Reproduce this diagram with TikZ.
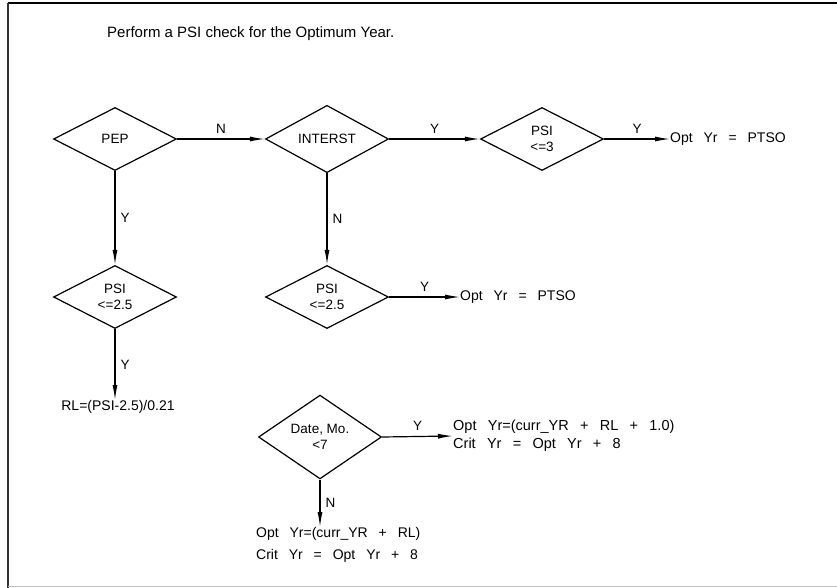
\documentclass[tikz,border=0pt]{standalone}
\usepackage{fontspec}
\setmainfont{Liberation Sans}
\newfontfamily\widefont[WordSpace=2.3]{Liberation Sans}
\newfontfamily\widerfont[WordSpace=2.8]{Liberation Sans}
\usetikzlibrary{shapes.geometric,arrows.meta}
\begin{document}
\begin{tikzpicture}[x=1pt,y=-1pt,
  dec/.style={draw,diamond,line width=1.2pt,inner sep=0pt,minimum width=123pt,minimum height=63pt,align=center,font=\fontsize{13.5}{15}\selectfont},
  conn/.style={line width=1.2pt},
  arr/.style={conn,-{Latex[length=15pt,width=5pt]}},
  lbl/.style={font=\fontsize{13.5}{15}\selectfont,inner sep=0pt},
  txt/.style={font=\fontsize{14}{16}\selectfont,inner sep=0pt,align=left},
  wtxt/.style={txt,font=\widefont\fontsize{14}{16}\selectfont}]
\useasboundingbox (0,0) rectangle (837,588);
\fill[white] (0,0) rectangle (837,588);
\draw[line width=2pt] (8,3) -- (837,3);
\draw[line width=1.5pt,black!80] (8,3) -- (8,588);
\draw[line width=1pt,black!25] (8,586) -- (837,586);
\node[txt,anchor=west,font=\fontsize{15}{17}\selectfont] (title) at (107,34) {Perform a PSI check for the Optimum Year.};
\node[dec] (pep) at (115,139) {PEP};
\node[dec] (int) at (327,139) {INTERST};
\node[dec] (ps3) at (542,139) {PSI\\[1pt]<=3};
\node[dec] (psa) at (115,297) {PSI\\[1pt]<=2.5};
\node[dec] (psb) at (327,297) {PSI\\[1pt]<=2.5};
\node[dec] (dat) at (320,437) {Date, Mo.\\[1pt]<7};
\node[wtxt,anchor=west] (o1) at (670,139) {Opt Yr = PTSO};
\node[wtxt,anchor=west] (o2) at (460,297) {Opt Yr = PTSO};
\node[txt,anchor=north] (rl) at (118,400) {RL=(PSI-2.5)/0.21};
\node[wtxt,anchor=west,font=\widerfont\fontsize{14.5}{18}\selectfont] (o3) at (453,436) {Opt Yr=(curr\_YR + RL + 1.0)\\Crit Yr = Opt Yr + 8};
\node[wtxt,anchor=north west,font=\widefont\fontsize{14}{22}\selectfont] (o4) at (256,527) {Opt Yr=(curr\_YR + RL)\\Crit Yr = Opt Yr + 8};
\draw[arr] (pep.east) -- (int.west) node[lbl,midway,above=5pt] {N};
\draw[arr] (int.east) -- (ps3.west) node[lbl,midway,above=5pt] {Y};
\draw[arr] (ps3.east) -- (o1.west) node[lbl,midway,above=5pt] {Y};
\draw[arr] (pep.south) -- (psa.north) node[lbl,midway,right=5pt] {Y};
\draw[arr] (psa.south) -- (psa.south |- rl.north) node[lbl,midway,right=5pt] {Y};
\draw[arr] (int.south) -- (psb.north) node[lbl,midway,right=5pt] {N};
\draw[arr] (psb.east) -- (o2.west) node[lbl,midway,above=5pt] {Y};
\draw[arr] (dat.east) -- (o3.west) node[lbl,midway,above=5pt] {Y};
\draw[arr] (dat.south) -- (dat.south |- o4.north) node[lbl,midway,right=5pt] {N};
\end{tikzpicture}
\end{document}
